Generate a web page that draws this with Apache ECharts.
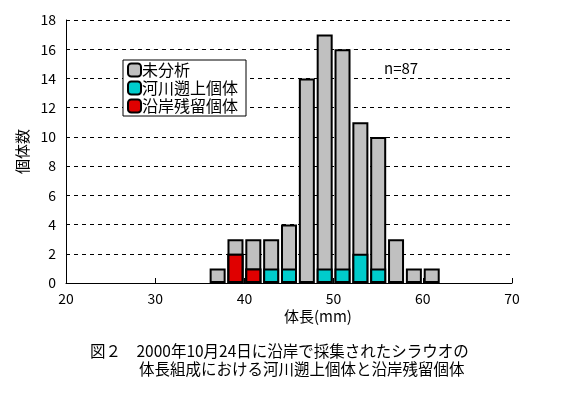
<!DOCTYPE html>
<html><head><meta charset="utf-8">
<script src="https://cdn.jsdelivr.net/npm/echarts@6/dist/echarts.min.js"></script>
<style>html,body{margin:0;padding:0;background:#fff}#c{width:582px;height:396px}</style>
</head><body><div id="c"></div>
<script>
const lengths = [37, 39, 41, 43, 45, 47, 49, 51, 53, 55, 57, 59, 61];
const totals  = [1, 3, 3, 3, 4, 14, 17, 16, 11, 10, 3, 1, 1];
const coastal = [0, 2, 1, 0, 0, 0, 0, 0, 0, 0, 0, 0, 0];
const river   = [0, 0, 0, 1, 1, 0, 1, 1, 2, 1, 0, 0, 0];
const names = ['未分析', '河川遡上個体', '沿岸残留個体'];
const FONT = '"Noto Sans CJK JP", sans-serif';

// Draw cumulative heights overlapping (stack order: coastal, river, unanalyzed on top)
const cumRiver = coastal.map((c, i) => c + river[i]);

const mk = (name, vals, color) => ({
  name, type: 'bar', barWidth: 16, barGap: '-100%',
  data: lengths.map((x, i) => [x, vals[i]]).filter(d => d[1] > 0),
  itemStyle: { color, borderColor: '#000', borderWidth: 2 },
  emphasis: { disabled: true }
});

const chart = echarts.init(document.getElementById('c'));
chart.setOption({
  animation: false,
  backgroundColor: '#fff',
  textStyle: { fontFamily: FONT, color: '#000' },
  grid: { left: 66, right: 70, top: 20, bottom: 113 },
  legend: {
    data: names, orient: 'vertical', left: 123, top: 60,
    backgroundColor: '#fff', borderColor: '#000', borderWidth: 1,
    padding: [2, 8, 2, 4], itemGap: 2, itemWidth: 13, itemHeight: 13,
    textStyle: { fontSize: 16, fontFamily: FONT, color: '#000', padding: [0, 0, 0, -4] }
  },
  xAxis: {
    type: 'value', min: 20, max: 70, interval: 10,
    axisLine: { lineStyle: { color: '#000', width: 1 } },
    axisTick: { show: true, inside: true, length: 5, lineStyle: { color: '#000' } },
    axisLabel: { fontSize: 14, color: '#000', margin: 9 },
    splitLine: { show: false }
  },
  yAxis: {
    type: 'value', min: 0, max: 18, interval: 2,
    name: '個体数', nameLocation: 'middle', nameGap: 34, nameRotate: 90,
    nameTextStyle: { fontSize: 15, fontFamily: FONT, color: '#000' },
    axisLine: { show: true, lineStyle: { color: '#000', width: 1 } },
    axisTick: { show: false },
    axisLabel: { fontSize: 14, color: '#000', margin: 10 },
    splitLine: { show: true, lineStyle: { color: '#000', type: [4, 4], width: 1 } }
  },
  graphic: [
    { type: 'text', left: 384, top: 61, style: { text: 'n=87', font: '15px ' + FONT, fill: '#000' } },
    { type: 'text', left: 284, top: 309, style: { text: '体長(mm)', font: '15px ' + FONT, fill: '#000' } },
    { type: 'text', left: 90, top: 343, style: { text: '図２　2000年10月24日に沿岸で採集されたシラウオの', font: '15.5px ' + FONT, fill: '#000' } },
    { type: 'text', left: 139, top: 361, style: { text: '体長組成における河川遡上個体と沿岸残留個体', font: '15.5px ' + FONT, fill: '#000' } }
  ],
  series: [
    mk('未分析', totals, '#c0c0c0'),
    mk('河川遡上個体', cumRiver, '#00cccc'),
    mk('沿岸残留個体', coastal, '#e00000')
  ]
});
</script></body></html>
